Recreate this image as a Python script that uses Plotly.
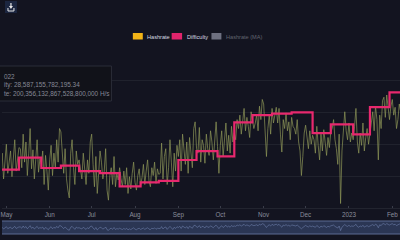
import plotly.graph_objects as go
import pandas as pd

# ---------------- data ----------------
hashrate_start = "2022-04-27"
hashrate_eh = [
    215, 228, 205, 222, 236, 210, 218, 230, 207, 224, 240, 212, 226, 233,
    232, 215, 245, 220, 238, 208, 228, 250, 214, 231, 205, 226, 240, 211, 223,
    218, 230, 200, 226, 212, 195, 222, 235, 208, 228, 215, 240, 220, 250,
    247, 225, 210, 232, 205, 195, 188, 228, 240, 215, 200, 230, 218, 222,
    215, 205, 228, 212, 200, 222, 210, 238, 245, 218, 198, 225, 192, 210, 230,
    220, 205, 212, 232, 195, 186, 208, 215, 200, 225, 198, 210, 204, 215,
    205, 198, 212, 200, 215, 192, 207, 196, 210, 220, 202, 195, 208, 214, 199,
    206, 218, 200, 212, 222, 203, 198, 215, 208, 220, 201, 214, 209,
    210, 237, 205, 225, 232, 200, 215, 240, 220, 198, 228, 212, 235,
    225, 240, 212, 245, 230, 218, 238, 210, 242, 225, 215, 250, 256, 232,
    228, 251, 220, 240, 235, 219, 245, 232, 226, 248, 238, 222, 242, 256, 234,
    210, 235, 248, 225, 240, 255, 230, 244, 228, 252, 238, 246,
    240, 258, 250, 262, 245, 255, 268, 248, 260, 252, 242, 265, 256, 250,
    255, 262, 248, 270, 258, 276, 272, 240, 225, 250, 262, 245, 268, 255,
    262, 269, 255, 268, 245, 229, 258, 250, 264, 248, 256, 240, 260, 252,
    250, 245, 258, 238, 230, 208, 225, 246, 253, 240, 232, 248, 236, 244,
    240, 228, 252, 235, 222, 245, 230, 249, 238, 226, 242, 233, 247,
    250, 258, 240, 232, 218, 245, 183, 230, 252, 265, 248, 240, 255, 238, 246,
    240, 252, 268, 238, 228, 246, 235, 255, 230, 242, 250, 236, 248,
    255, 265, 248, 270, 258, 222, 262, 250, 275, 278, 260, 280, 266, 258,
    270, 276, 262, 269, 250, 258, 272, 265, 249, 262,
]

diff_dates = [
    "2022-04-27", "2022-05-10", "2022-05-26", "2022-06-09", "2022-06-22",
    "2022-07-07", "2022-07-21", "2022-08-05", "2022-08-18", "2022-09-01",
    "2022-09-14", "2022-09-29", "2022-10-11", "2022-10-24", "2022-11-07",
    "2022-11-21", "2022-12-06", "2022-12-19", "2023-01-04", "2023-01-16",
    "2023-01-30", "2023-02-10",
]
difficulty_t = [
    29.8, 31.3, 30.0, 30.3, 29.6, 29.35, 27.7, 28.2, 28.4, 31.0,
    32.1, 31.45, 35.7, 36.6, 36.8, 36.95, 34.35, 35.45, 34.2, 37.6,
    39.45, 39.45,
]

month_ticks = ["2022-05-01", "2022-06-01", "2022-07-01", "2022-08-01", "2022-09-01",
               "2022-10-01", "2022-11-01", "2022-12-01", "2023-01-01", "2023-02-01"]
month_labels = ["May", "Jun", "Jul", "Aug", "Sep", "Oct", "Nov", "Dec", "2023", "Feb"]

legend_names = ["Hashrate", "Difficulty", "Hashrate (MA)"]
# visible part of the hover box (its left side lies outside the picture)
tooltip_lines = ["022", "ity: 28,587,155,782,195.34",
                 "te: 200,356,132,867,528,800,000 H/s"]

# ---------------- style ----------------
W, H = 400, 240
BG = "#131420"
HR_COLOR = "rgba(142,150,88,0.78)"
DIFF_COLOR = "#e8286e"
FONT = "Liberation Sans, Arial, sans-serif"
x_range = ["2022-04-27 21:00", "2023-02-06 12:00"]

hr_dates = pd.date_range(hashrate_start, periods=len(hashrate_eh), freq="D")
hr_values = [v * 1e18 for v in hashrate_eh]
diff_values = [v * 1e12 for v in difficulty_t]


def px(x):
    return x / W


def py(y):
    return 1 - y / H


fig = go.Figure()
fig.add_trace(go.Scatter(x=hr_dates, y=hr_values, mode="lines", name=legend_names[0],
                         line=dict(color=HR_COLOR, width=0.9), xaxis="x", yaxis="y",
                         hoverinfo="skip", showlegend=False))
fig.add_trace(go.Scatter(x=diff_dates, y=diff_values, mode="lines", name=legend_names[1],
                         line=dict(color=DIFF_COLOR, width=2.2, shape="hv"),
                         xaxis="x", yaxis="y2", hoverinfo="skip", showlegend=False))
# range-slider-like mini chart
fig.add_trace(go.Scatter(x=hr_dates, y=hr_values, mode="lines",
                         line=dict(color="rgba(140,160,210,0.5)", width=0.8),
                         xaxis="x2", yaxis="y3", hoverinfo="skip", showlegend=False))

main_bottom, main_top = py(208), py(48)
slider_bottom, slider_top = py(234), py(221)

shapes = [
    dict(type="rect", xref="paper", yref="paper", x0=0, x1=1, y0=slider_bottom, y1=slider_top,
         fillcolor="#2b3654", line=dict(width=0), layer="below"),
    dict(type="line", xref="paper", yref="paper", x0=0, x1=1, y0=slider_top, y1=slider_top,
         line=dict(color="#5d6b92", width=1)),
    dict(type="line", xref="paper", yref="paper", x0=0, x1=1, y0=slider_bottom, y1=slider_bottom,
         line=dict(color="#5d6b92", width=1)),
    # modebar-like icon
    dict(type="rect", xref="paper", yref="paper", x0=px(3), x1=px(15), y0=py(13), y1=py(1),
         fillcolor="#1c2640", line=dict(width=0)),
    dict(type="path", xref="paper", yref="paper",
         path=f"M {px(6)},{py(8)} L {px(6)},{py(11)} L {px(12)},{py(11)} L {px(12)},{py(8)}",
         line=dict(color="#e8e8e8", width=1)),
    dict(type="path", xref="paper", yref="paper",
         path=f"M {px(7)},{py(6)} L {px(11)},{py(6)} L {px(9)},{py(9)} Z M {px(8.4)},{py(3)} L {px(9.6)},{py(3)} L {px(9.6)},{py(6)} L {px(8.4)},{py(6)} Z",
         fillcolor="#e8e8e8", line=dict(width=0)),
    # hover box
    dict(type="rect", xref="paper", yref="paper", x0=px(-4), x1=px(110), y0=py(101), y1=py(66),
         fillcolor="#111219", line=dict(color="#2a2c38", width=1)),
]

# manual legend
legend_items = [
    (131.5, 141.5, "#f2b417", legend_names[0], "#d8dae0"),
    (170.5, 181, "#e0246c", legend_names[1], "#d8dae0"),
    (210.5, 220.5, "#6e7080", legend_names[2], "#62646f"),
]
annotations = []
for x0, x1, col, name, tcol in legend_items:
    shapes.append(dict(type="rect", xref="paper", yref="paper", x0=px(x0), x1=px(x1),
                       y0=py(39.5), y1=py(33), fillcolor=col, line=dict(width=0)))
    annotations.append(dict(xref="paper", yref="paper", x=px(x1 + 2.5), y=py(36.5),
                            xanchor="left", yanchor="middle", showarrow=False,
                            text=name, font=dict(family=FONT, size=5.6, color=tcol)))

# hover box text lines
for line, ycen in zip(tooltip_lines, [76, 85, 94]):
    annotations.append(dict(xref="paper", yref="paper", x=px(0), y=py(ycen),
                            xanchor="left", yanchor="middle", showarrow=False,
                            text=line, font=dict(family=FONT, size=6.4, color="#868996")))

fig.update_layout(
    width=W, height=H,
    margin=dict(l=0, r=0, t=0, b=0),
    paper_bgcolor=BG, plot_bgcolor=BG,
    showlegend=False,
    shapes=shapes, annotations=annotations,
    xaxis=dict(domain=[0, 1], anchor="y", type="date", range=x_range,
               tickvals=month_ticks, ticktext=month_labels, ticklabeloverflow="allow",
               tickfont=dict(family=FONT, size=6.3, color="#8a8e9c"),
               ticks="inside", ticklen=2, tickcolor="#3a3d4a",
               showgrid=False, zeroline=False, showline=True, linecolor="#22242f"),
    yaxis=dict(domain=[main_bottom, main_top], range=[179e18, 322e18],
               tick0=179e18, dtick=28.6e18, showticklabels=False,
               gridcolor="#20222d", gridwidth=1, zeroline=False),
    yaxis2=dict(overlaying="y", range=[25e12, 45e12], showgrid=False,
                showticklabels=False, zeroline=False),
    xaxis2=dict(domain=[0, 1], anchor="y3", type="date", range=x_range,
                showticklabels=False, showgrid=False, zeroline=False, ticks=""),
    yaxis3=dict(domain=[slider_bottom + 0.004, slider_top - 0.004], range=[150e18, 300e18],
                showticklabels=False, showgrid=False, zeroline=False),
)

fig.write_html("out.html")
